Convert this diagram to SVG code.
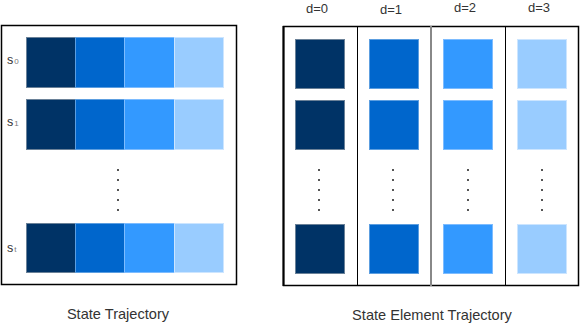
<svg xmlns="http://www.w3.org/2000/svg" width="580" height="324" viewBox="0 0 580 324">
<style>
text{font-family:"Liberation Sans",Arial,sans-serif;fill:#333}
.t{font-size:13px;text-anchor:middle}
.title{font-size:14.6px;text-anchor:middle}
.lab{font-size:12.5px}
.sub{font-size:8px;fill:#777}
.c0{fill:#003366;stroke:#6a8198;stroke-width:1}
.c1{fill:#0066cc;stroke:#5c9ee0;stroke-width:1}
.c2{fill:#3399ff;stroke:#7dbcff;stroke-width:1}
.c3{fill:#99ccff;stroke:#cce5ff;stroke-width:1}
.frame{fill:none;stroke:#000;stroke-width:1.5}
.dot{fill:#555}
</style>
<defs>
<g id="dots">
<rect x="-1" y="-1" width="2" height="2" class="dot"/>
<rect x="-1" y="9" width="2" height="2" class="dot"/>
<rect x="-1" y="19" width="2" height="2" class="dot"/>
<rect x="-1" y="29" width="2" height="2" class="dot"/>
<rect x="-1" y="39" width="2" height="2" class="dot"/>
</g>
</defs>
<g id="state-trajectory">
<rect class="frame" x="1.5" y="25.5" width="235" height="259"/>
<g id="row-s0">
<rect class="c0" x="26.5" y="37.5" width="49" height="50"/>
<rect class="c1" x="75.5" y="37.5" width="49" height="50"/>
<rect class="c2" x="124.5" y="37.5" width="50" height="50"/>
<rect class="c3" x="174.5" y="37.5" width="49" height="50"/>
<text class="lab" x="7" y="64">s<tspan class="sub" dx="1">0</tspan></text>
</g>
<g id="row-s1">
<rect class="c0" x="26.5" y="99.5" width="49" height="50"/>
<rect class="c1" x="75.5" y="99.5" width="49" height="50"/>
<rect class="c2" x="124.5" y="99.5" width="50" height="50"/>
<rect class="c3" x="174.5" y="99.5" width="49" height="50"/>
<text class="lab" x="7" y="126">s<tspan class="sub" dx="1">1</tspan></text>
</g>
<use href="#dots" x="118" y="170"/>
<g id="row-st">
<rect class="c0" x="26.5" y="223.5" width="49" height="49"/>
<rect class="c1" x="75.5" y="223.5" width="49" height="49"/>
<rect class="c2" x="124.5" y="223.5" width="50" height="49"/>
<rect class="c3" x="174.5" y="223.5" width="49" height="49"/>
<text class="lab" x="7" y="252">s<tspan class="sub" dx="1">t</tspan></text>
</g>
<text class="title" x="118" y="319">State Trajectory</text>
</g>
<g id="state-element-trajectory">
<rect fill="none" stroke="#000" stroke-width="1.5" x="283.5" y="26.5" width="295" height="259"/>
<line x1="283.5" y1="26" x2="283.5" y2="286" stroke="#000" stroke-width="2"/>
<line x1="357.5" y1="26" x2="357.5" y2="286" stroke="#000" stroke-width="1"/>
<line x1="431" y1="26" x2="431" y2="286" stroke="#888" stroke-width="2"/>
<line x1="505.5" y1="26" x2="505.5" y2="286" stroke="#000" stroke-width="1"/>
<g id="col-d0">
<text class="t" x="317" y="13">d=0</text>
<rect class="c0" x="295.5" y="39.5" width="49" height="49"/>
<rect class="c0" x="295.5" y="100.5" width="49" height="49"/>
<use href="#dots" x="319" y="170"/>
<rect class="c0" x="295.5" y="224.5" width="49" height="49"/>
</g>
<g id="col-d1">
<text class="t" x="391" y="14">d=1</text>
<rect class="c1" x="369.5" y="39.5" width="49" height="49"/>
<rect class="c1" x="369.5" y="100.5" width="49" height="49"/>
<use href="#dots" x="393" y="170"/>
<rect class="c1" x="369.5" y="224.5" width="49" height="49"/>
</g>
<g id="col-d2">
<text class="t" x="465" y="12">d=2</text>
<rect class="c2" x="443.5" y="39.5" width="49" height="49"/>
<rect class="c2" x="443.5" y="100.5" width="49" height="49"/>
<use href="#dots" x="468" y="170"/>
<rect class="c2" x="443.5" y="224.5" width="49" height="49"/>
</g>
<g id="col-d3">
<text class="t" x="539" y="12">d=3</text>
<rect class="c3" x="517.5" y="39.5" width="49" height="49"/>
<rect class="c3" x="517.5" y="100.5" width="49" height="49"/>
<use href="#dots" x="542" y="170"/>
<rect class="c3" x="517.5" y="224.5" width="49" height="49"/>
</g>
<text class="title" x="432" y="320">State Element Trajectory</text>
</g>
<g id="connectors"/>
</svg>
